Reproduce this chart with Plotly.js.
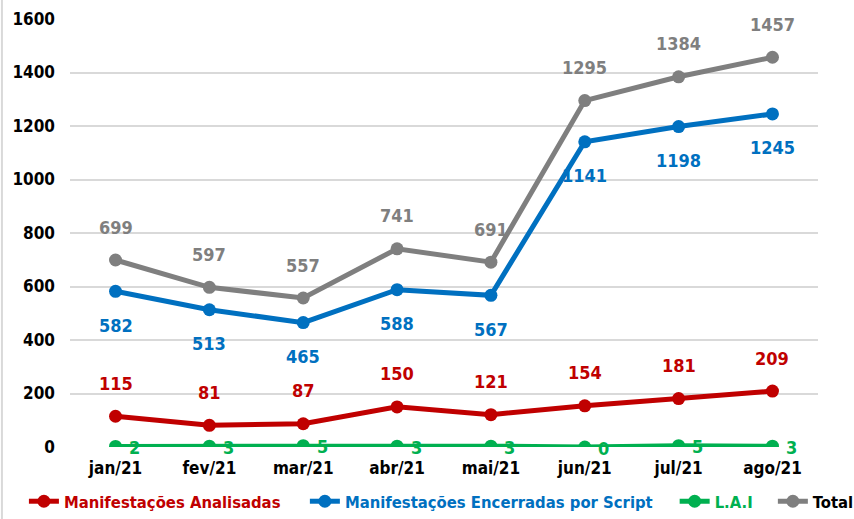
<!DOCTYPE html>
<html><head><meta charset="utf-8">
<script src="https://cdn.plot.ly/plotly-3.0.1.min.js"></script>
<style>html,body{margin:0;padding:0;background:#fff}#chart{width:854px;height:519px}</style>
</head><body><div id="chart"></div>
<script>
const months = ["jan/21","fev/21","mar/21","abr/21","mai/21","jun/21","jul/21","ago/21"];
const analisadas = [115,81,87,150,121,154,181,209];
const encerradas = [582,513,465,588,567,1141,1198,1245];
const lai = [2,3,5,3,3,0,5,3];
const total = [699,597,557,741,691,1295,1384,1457];
const yTicks = [0,200,400,600,800,1000,1200,1400,1600];

const FONT = "'DejaVu Sans Condensed', 'Liberation Sans', sans-serif";
const cRed = "#c00000", cBlue = "#0070c0", cGreen = "#00b050", cGray = "#7f7f7f";

function tr(y, name, color, legendColor, legendId){
  return {x: months, y: y, type: "scatter", mode: "lines+markers", name: "<span style='color:"+legendColor+"'>"+name+"</span>",
    line: {color: color, width: 5}, marker: {color: color, size: 13}, legend: legendId};
}
const data = [
  tr(analisadas, "Manifestações Analisadas", cRed, cRed, "legend"),
  tr(encerradas, "Manifestações Encerradas por Script", cBlue, cBlue, "legend2"),
  tr(lai, "L.A.I", cGreen, cGreen, "legend3"),
  tr(total, "Total", cGray, "#000000", "legend4")
];

const ann = [];
function labels(arr, color, xs, ys){
  arr.forEach((v,i)=>ann.push({x: months[i], y: v, text: String(v), showarrow: false,
    xshift: xs, yshift: ys, font: {family: FONT, size: 18, color: color, weight: "bold"}}));
}
labels(analisadas, cRed, 0, 33);
labels(encerradas, cBlue, 0, -34);
labels(total, cGray, 0, 33);
labels(lai, cGreen, 19, -1);

function leg(x){
  return {orientation: "h", xref: "container", yref: "container", x: x, xanchor: "left", y: -0.001, yanchor: "bottom",
    font: {family: FONT, size: 16.5, weight: "bold"}, itemwidth: 30, bgcolor: "rgba(0,0,0,0)"};
}

const layout = {
  width: 854, height: 519,
  margin: {l: 70, r: 36, t: 19, b: 72},
  paper_bgcolor: "#fff", plot_bgcolor: "#fff",
  font: {family: FONT, size: 17, color: "#000", weight: "bold"},
  showlegend: true,
  legend: leg(0.028),
  legend2: leg(0.357),
  legend3: leg(0.790),
  legend4: leg(0.905),
  xaxis: {type: "category", showgrid: false, zeroline: false, showline: false,
    tickfont: {family: FONT, size: 17, color: "#000", weight: "bold"}, ticks: "", automargin: false,
    ticklabelstandoff: 9},
  yaxis: {range: [0, 1600], tickvals: yTicks, showgrid: true, gridcolor: "#d9d9d9", gridwidth: 2,
    zeroline: false, showline: false, ticks: "", ticklabelstandoff: 14,
    tickfont: {family: FONT, size: 17, color: "#000", weight: "bold"}, automargin: false},
  annotations: ann,
  shapes: [{type: "line", xref: "paper", yref: "paper", x0: -0.091, x1: -0.091, y0: -0.25, y1: 1.1,
    line: {color: "#d9d9d9", width: 2}}]
};
Plotly.newPlot("chart", data, layout, {displayModeBar: false});
</script></body></html>
